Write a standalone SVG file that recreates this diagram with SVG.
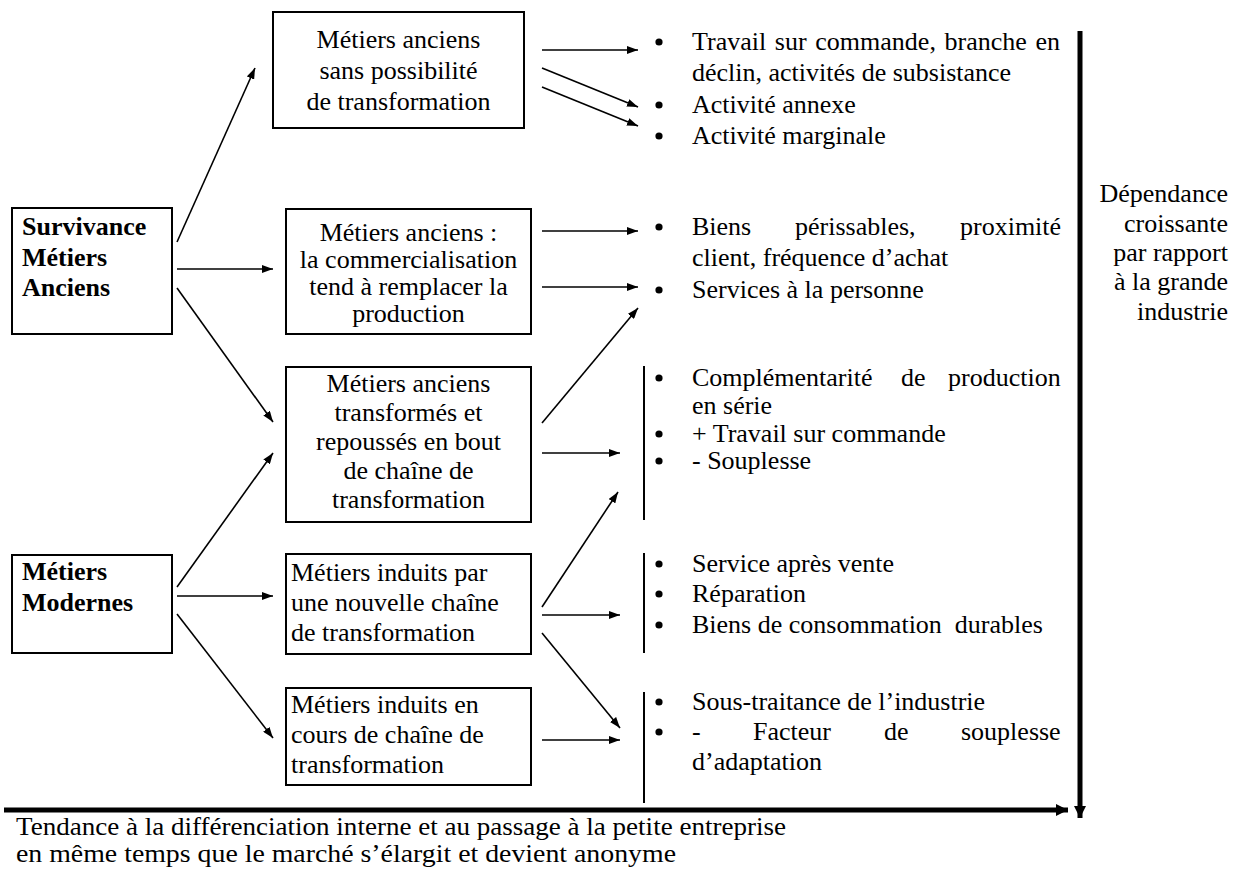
<svg xmlns="http://www.w3.org/2000/svg" width="1242" height="874" viewBox="0 0 1242 874" font-family="Liberation Serif, Times New Roman, serif">
<style>
text{font-family:"Liberation Serif","Times New Roman",serif;font-size:26px;fill:#000}
.b{font-weight:bold}
.c{text-anchor:middle}
.r{text-anchor:end}
.box{fill:#fff;stroke:#000;stroke-width:2}
.ln{stroke:#000;stroke-width:1.6;fill:none;marker-end:url(#ah)}
.bar{stroke:#000;stroke-width:2}
.thick{stroke:#000;stroke-width:5;fill:none}
</style>
<defs>
<marker id="ah" markerUnits="userSpaceOnUse" markerWidth="11" markerHeight="8" refX="11" refY="4" orient="auto"><path d="M0,0 L11,4 L0,8 z" fill="#000"/></marker>
<marker id="ahT" markerUnits="userSpaceOnUse" markerWidth="12" markerHeight="12" refX="12" refY="6" orient="auto"><path d="M0,0 L12,6 L0,12 z" fill="#000"/></marker>
</defs>
<rect width="1242" height="874" fill="#fff"/>

<g id="survivance">
<rect class="box" x="12" y="208" width="160" height="126"/>
<text class="b" x="22" y="235">Survivance</text>
<text class="b" x="22" y="266">Métiers</text>
<text class="b" x="22" y="296">Anciens</text>
</g>
<g id="modernes">
<rect class="box" x="12" y="555" width="160" height="98"/>
<text class="b" x="22" y="580">Métiers</text>
<text class="b" x="22" y="611">Modernes</text>
</g>
<g id="box1">
<rect class="box" x="273" y="12" width="251" height="116" stroke-width="2.5"/>
<text class="c" x="398.5" y="48">Métiers anciens</text>
<text class="c" x="398.5" y="79">sans possibilité</text>
<text class="c" x="398.5" y="110">de transformation</text>
</g>
<g id="box2">
<rect class="box" x="286" y="209" width="245" height="125"/>
<text class="c" x="408.5" y="241">Métiers anciens :</text>
<text class="c" x="408.5" y="268">la commercialisation</text>
<text class="c" x="408.5" y="295">tend à remplacer la</text>
<text class="c" x="408.5" y="322">production</text>
</g>
<g id="box3">
<rect class="box" x="286" y="367" width="245" height="155"/>
<text class="c" x="408.5" y="392">Métiers anciens</text>
<text class="c" x="408.5" y="421">transformés et</text>
<text class="c" x="408.5" y="450">repoussés en bout</text>
<text class="c" x="408.5" y="479">de chaîne de</text>
<text class="c" x="408.5" y="508">transformation</text>
</g>
<g id="box4">
<rect class="box" x="286" y="554" width="245" height="100"/>
<text x="291" y="581">Métiers induits par</text>
<text x="291" y="611">une nouvelle chaîne</text>
<text x="291" y="641">de transformation</text>
</g>
<g id="box5">
<rect class="box" x="286" y="688" width="245" height="97"/>
<text x="291" y="713">Métiers induits en</text>
<text x="291" y="743">cours de chaîne de</text>
<text x="291" y="773">transformation</text>
</g>

<g id="group1">
<circle cx="659" cy="42" r="3.6"/>
<text x="692" y="50" word-spacing="2.2">Travail sur commande, branche en</text>
<text x="692" y="81">déclin, activités de subsistance</text>
<circle cx="659" cy="105" r="3.6"/>
<text x="692" y="113">Activité annexe</text>
<circle cx="659" cy="136" r="3.6"/>
<text x="692" y="144">Activité marginale</text>
</g>
<g id="group2">
<circle cx="659" cy="227" r="3.6"/>
<text y="235"><tspan x="692">Biens</tspan><tspan x="795">périssables,</tspan><tspan x="960">proximité</tspan></text>
<text x="692" y="266">client, fréquence d’achat</text>
<circle cx="659" cy="290" r="3.6"/>
<text x="692" y="298">Services à la personne</text>
</g>
<g id="group3">
<line class="bar" x1="644" y1="366" x2="644" y2="520"/>
<circle cx="659" cy="378" r="3.6"/>
<text y="386"><tspan x="692">Complémentarité</tspan><tspan x="901">de</tspan><tspan x="948">production</tspan></text>
<text x="692" y="414">en série</text>
<circle cx="659" cy="434" r="3.6"/>
<text x="692" y="442">+ Travail sur commande</text>
<circle cx="659" cy="461" r="3.6"/>
<text x="692" y="469">- Souplesse</text>
</g>
<g id="group4">
<line class="bar" x1="644" y1="553" x2="644" y2="653"/>
<circle cx="659" cy="564" r="3.6"/>
<text x="692" y="572">Service après vente</text>
<circle cx="659" cy="594" r="3.6"/>
<text x="692" y="602">Réparation</text>
<circle cx="659" cy="625" r="3.6"/>
<text x="692" y="633" xml:space="preserve">Biens de consommation  durables</text>
</g>
<g id="group5">
<line class="bar" x1="644" y1="692" x2="644" y2="803"/>
<circle cx="659" cy="702" r="3.6"/>
<text x="692" y="710">Sous-traitance de l’industrie</text>
<circle cx="659" cy="732" r="3.6"/>
<text y="740"><tspan x="692">-</tspan><tspan x="753">Facteur</tspan><tspan x="884">de</tspan><tspan x="961">souplesse</tspan></text>
<text x="692" y="770">d’adaptation</text>
</g>

<g id="dependance">
<text class="r" x="1228" y="202">Dépendance</text>
<text class="r" x="1228" y="232">croissante</text>
<text class="r" x="1228" y="261">par rapport</text>
<text class="r" x="1228" y="290">à la grande</text>
<text class="r" x="1228" y="320">industrie</text>
</g>

<g id="tendance">
<text x="16" y="835" font-size="22" textLength="770" lengthAdjust="spacingAndGlyphs">Tendance à la différenciation interne et au passage à la petite entreprise</text>
<text x="16" y="862" font-size="22" textLength="660" lengthAdjust="spacingAndGlyphs">en même temps que le marché s’élargit et devient anonyme</text>
</g>

<g id="connectors">
<line class="ln" x1="177" y1="242" x2="255" y2="68"/>
<line class="ln" x1="177" y1="269" x2="273" y2="269"/>
<line class="ln" x1="177" y1="288" x2="273" y2="422"/>
<line class="ln" x1="177" y1="587" x2="273" y2="453"/>
<line class="ln" x1="177" y1="596" x2="273" y2="596"/>
<line class="ln" x1="177" y1="614" x2="273" y2="738"/>
<line class="ln" x1="542" y1="50" x2="638" y2="50"/>
<line class="ln" x1="542" y1="68" x2="638" y2="107"/>
<line class="ln" x1="542" y1="87" x2="638" y2="126"/>
<line class="ln" x1="542" y1="231" x2="638" y2="231"/>
<line class="ln" x1="542" y1="287" x2="638" y2="287"/>
<line class="ln" x1="542" y1="423" x2="638" y2="308"/>
<line class="ln" x1="542" y1="453" x2="620" y2="453"/>
<line class="ln" x1="542" y1="607" x2="618" y2="492"/>
<line class="ln" x1="542" y1="615" x2="620" y2="615"/>
<line class="ln" x1="542" y1="633" x2="620" y2="728"/>
<line class="ln" x1="542" y1="740" x2="620" y2="740"/>
<line class="thick" x1="4" y1="810" x2="1068" y2="810" marker-end="url(#ahT)"/>
<line class="thick" x1="1080" y1="31" x2="1080" y2="818" marker-end="url(#ahT)"/>
</g>
</svg>
